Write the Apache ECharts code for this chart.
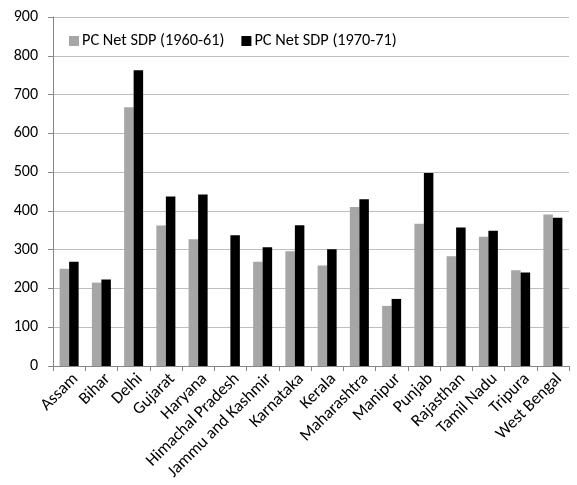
<!DOCTYPE html>
<html><head><meta charset="utf-8">
<script src="https://cdn.jsdelivr.net/npm/echarts@6/dist/echarts.min.js"></script>
<style>html,body{margin:0;padding:0;background:#fff}#c{width:577px;height:485px}</style>
</head><body><div id="c"></div>
<script>
var categories = ["Assam","Bihar","Delhi","Gujarat","Haryana","Himachal Pradesh","Jammu and Kashmir","Karnataka","Kerala","Maharashtra","Manipur","Punjab","Rajasthan","Tamil Nadu","Tripura","West Bengal"];
var sdp1960 = [251,215,667,362,327,null,269,296,259,410,155,367,283,333,247,391];
var sdp1970 = [269,223,763,437,442,337,306,363,301,430,173,498,357,349,241,382];
var seriesNames = ["PC Net SDP (1960-61)","PC Net SDP (1970-71)"];
var yTicks = {min:0, max:900, interval:100};

var font = "Carlito, Lato, 'Open Sans', sans-serif";
var chart = echarts.init(document.getElementById('c'));
chart.setOption({
  animation:false,
  grid:{left:53,right:8,top:17,bottom:119,containLabel:false,outerBoundsMode:'none'},
  legend:{
    top:28,left:64,itemWidth:10,itemHeight:10,itemGap:17,icon:'rect',
    textStyle:{fontFamily:font,fontSize:16.3,color:'#000',padding:[0,0,0,-2]},
    data:seriesNames
  },
  xAxis:{
    type:'category',data:categories,
    axisLine:{lineStyle:{color:'#868686'}},
    axisTick:{show:true,alignWithLabel:false,length:5,lineStyle:{color:'#868686'}},
    axisLabel:{rotate:45,interval:0,fontFamily:font,fontSize:17,color:'#000',margin:4,
      verticalAlign:'top',lineHeight:18,padding:[0,0,0,0]}
  },
  yAxis:{
    type:'value',min:yTicks.min,max:yTicks.max,interval:yTicks.interval,
    axisLine:{show:true,lineStyle:{color:'#868686'}},
    axisTick:{show:true,length:5,lineStyle:{color:'#868686'}},
    splitLine:{lineStyle:{color:'#BEBEBE',width:1}},
    axisLabel:{fontFamily:font,fontSize:16,color:'#000',margin:15}
  },
  series:[
    {name:seriesNames[0],type:'bar',data:sdp1960,barWidth:9.5,barGap:'0%',itemStyle:{color:'#A6A6A6'}},
    {name:seriesNames[1],type:'bar',data:sdp1970,barWidth:9.5,barGap:'0%',itemStyle:{color:'#000000'}}
  ]
});
</script></body></html>
